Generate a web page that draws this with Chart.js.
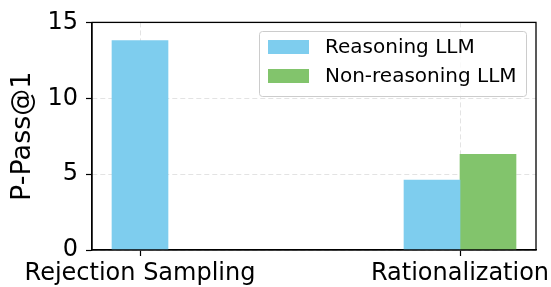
<!DOCTYPE html>
<html>
<head>
<meta charset="utf-8">
<script src="https://cdn.jsdelivr.net/npm/chart.js@4.4.0/dist/chart.umd.min.js"></script>
<style>
  html, body { margin: 0; padding: 0; background: #fff; }
  #wrap { width: 551px; height: 287px; }
</style>
</head>
<body>
<div id="wrap"><canvas id="chart" width="551" height="287"></canvas></div>
<script>
const categories = ['Rejection Sampling', 'Rationalization']
const seriesNames = ['Reasoning LLM', 'Non-reasoning LLM']
const reasoning = [13.8, 4.6]
const nonReasoning = [null, 6.3]
const yTicks = [0, 5, 10, 15]
const colors = ['#7ecdee', '#82c46c']
const font = 'DejaVu Sans'

// top + right spines, like matplotlib's box
const boxPlugin = {
    id: 'box',
    afterDatasetsDraw(chart) {
        const a = chart.chartArea
        const ctx = chart.ctx
        ctx.save()
        ctx.strokeStyle = '#000'
        ctx.lineWidth = 1.3
        ctx.strokeRect(a.left, a.top, a.right - a.left, a.bottom - a.top)
        ctx.restore()
    }
}

// legend drawn in the upper right of the plot
const legendPlugin = {
    id: 'boxLegend',
    afterDraw(chart) {
        const ctx = chart.ctx
        const x = 259, y = 31, w = 267, h = 65
        ctx.save()
        ctx.fillStyle = 'rgba(255,255,255,0.8)'
        ctx.strokeStyle = '#cccccc'
        ctx.lineWidth = 1
        ctx.beginPath()
        ctx.roundRect(x + 0.5, y + 0.5, w, h, 3)
        ctx.fill()
        ctx.stroke()
        ctx.font = '20px "' + font + '"'
        ctx.textBaseline = 'middle'
        chart.data.datasets.forEach((ds, i) => {
            const cy = 47 + i * 29
            ctx.fillStyle = ds.backgroundColor
            ctx.fillRect(268, cy - 7, 41, 14)
            ctx.fillStyle = '#000'
            ctx.fillText(ds.label, 325, cy + 1)
        })
        ctx.restore()
    }
}

const ctx = document.getElementById('chart')
new Chart(ctx, {
    type: 'bar',
    data: {
        datasets: [
            {
                label: seriesNames[0],
                data: categories.map((c, i) => ({ x: i, y: reasoning[i] })),
                backgroundColor: colors[0],
            },
            {
                label: seriesNames[1],
                data: categories.map((c, i) => ({ x: i, y: nonReasoning[i] })),
                backgroundColor: colors[1],
            },
        ]
    },
    options: {
        responsive: false,
        animation: false,
        devicePixelRatio: 1,
        layout: { padding: { left: 0, right: 15, top: 20, bottom: 0 } },
        datasets: { bar: { barThickness: 56, skipNull: true, borderWidth: 0 } },
        plugins: {
            legend: { display: false },
            tooltip: { enabled: false },
        },
        scales: {
            x: {
                type: 'linear',
                offset: false,
                min: -0.15,
                max: 1.2375,
                afterBuildTicks: (s) => { s.ticks = categories.map((c, i) => ({ value: i })) },
                afterFit: (s) => {
                    s.height = 37
                    s.paddingLeft = 0
                    s.paddingRight = 0
                },
                ticks: {
                    callback: (v) => categories[v],
                    font: { family: font, size: 24 },
                    color: '#000',
                    padding: 3,
                    maxRotation: 0,
                    autoSkip: false,
                },
                grid: {
                    offset: false,
                    color: '#e3e3e3',
                    tickColor: '#000',
                    tickBorderDash: [],
                    tickLength: 6,
                    tickWidth: 1.2,
                },
                border: { color: '#000', width: 1.3, dash: [5, 3] },
            },
            y: {
                min: 0,
                max: 15,
                afterBuildTicks: (s) => { s.ticks = yTicks.map(v => ({ value: v })) },
                afterFit: (s) => { s.width = 92 },
                ticks: {
                    font: { family: font, size: 24 },
                    color: '#000',
                    padding: 8,
                },
                grid: {
                    color: '#e3e3e3',
                    tickColor: '#000',
                    tickBorderDash: [],
                    tickLength: 6,
                    tickWidth: 1.2,
                },
                border: { color: '#000', width: 1.3, dash: [5, 3] },
                title: {
                    display: true,
                    text: 'P-Pass@1',
                    font: { family: font, size: 27 },
                    color: '#000',
                    padding: { top: 7, bottom: 4 },
                },
            }
        }
    },
    plugins: [boxPlugin, legendPlugin]
})
</script>
</body>
</html>
